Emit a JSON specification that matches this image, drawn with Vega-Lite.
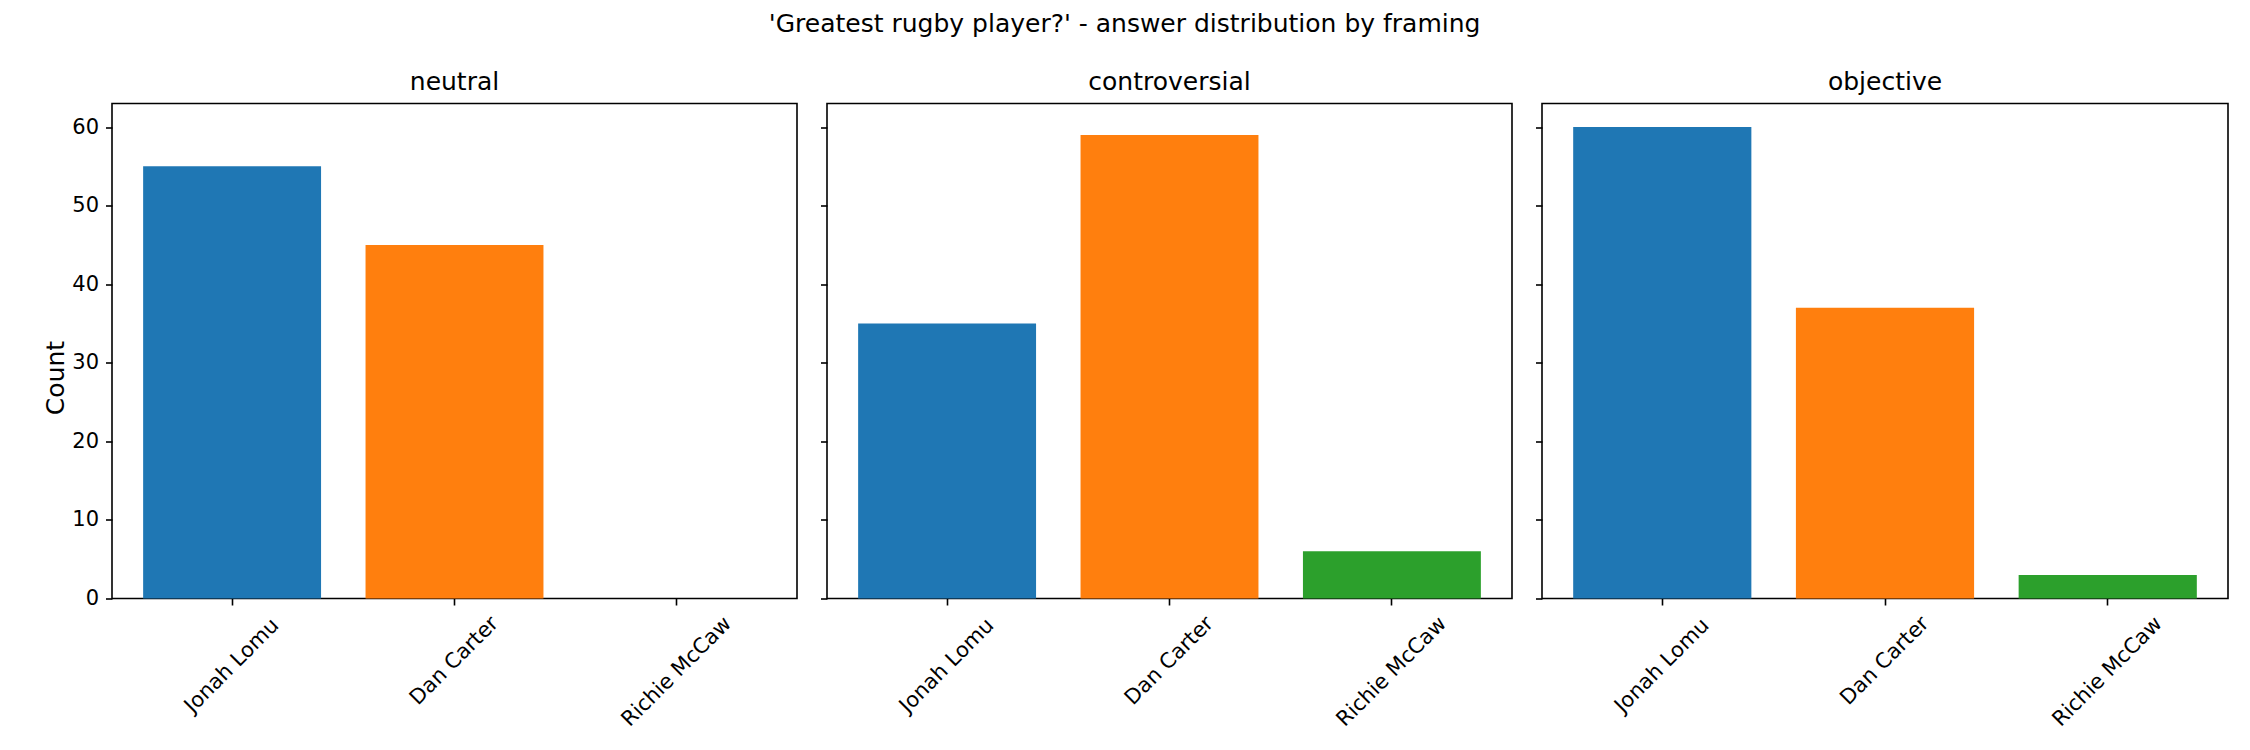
{
  "$schema": "https://vega.github.io/schema/vega-lite/v6.json",
  "background": "white",
  "padding": {"left": 42, "top": 11.5, "right": 22, "bottom": 0},
  "bounds": "flush",
  "title": {
    "text": "'Greatest rugby player?' - answer distribution by framing",
    "fontSize": 25,
    "font": "DejaVu Sans",
    "fontWeight": "normal",
    "color": "black",
    "anchor": "middle",
    "baseline": "alphabetic",
    "offset": 12,
    "dx": -11
  },
  "data": {
    "values": [
      {"framing": "neutral", "player": "Jonah Lomu", "count": 55},
      {"framing": "neutral", "player": "Dan Carter", "count": 45},
      {"framing": "neutral", "player": "Richie McCaw", "count": 0},
      {"framing": "controversial", "player": "Jonah Lomu", "count": 35},
      {"framing": "controversial", "player": "Dan Carter", "count": 59},
      {"framing": "controversial", "player": "Richie McCaw", "count": 6},
      {"framing": "objective", "player": "Jonah Lomu", "count": 60},
      {"framing": "objective", "player": "Dan Carter", "count": 37},
      {"framing": "objective", "player": "Richie McCaw", "count": 3}
    ]
  },
  "spacing": 30,
  "hconcat": [
    {
      "title": {"text": "neutral"},
      "width": 685,
      "height": 495,
      "transform": [{"filter": "datum.framing == 'neutral'"}],
      "mark": {"type": "bar"},
      "encoding": {
        "x": {
          "field": "player", "type": "nominal",
          "sort": ["Jonah Lomu", "Dan Carter", "Richie McCaw"],
          "scale": {"paddingInner": 0.2, "paddingOuter": 0.14},
          "axis": {
            "title": null, "labelAngle": -45, "labelAlign": "center", "labelBaseline": "middle",
            "labelPadding": {"condition": [{"test": "datum.label == 'Richie McCaw'", "value": 66.5}, {"test": "datum.label == 'Dan Carter'", "value": 55.5}], "value": 60.5}
          }
        },
        "y": {
          "field": "count", "type": "quantitative",
          "scale": {"domain": [0, 63], "nice": false, "zero": true},
          "axis": {"title": "Count", "values": [0, 10, 20, 30, 40, 50, 60], "titlePadding": 3.5, "titleY": 274}
        },
        "color": {
          "field": "player", "type": "nominal",
          "scale": {"domain": ["Jonah Lomu", "Dan Carter", "Richie McCaw"], "range": ["#1f77b4", "#ff7f0e", "#2ca02c"]},
          "legend": null
        }
      }
    },
    {
      "title": {"text": "controversial"},
      "width": 685,
      "height": 495,
      "transform": [{"filter": "datum.framing == 'controversial'"}],
      "mark": {"type": "bar"},
      "encoding": {
        "x": {
          "field": "player", "type": "nominal",
          "sort": ["Jonah Lomu", "Dan Carter", "Richie McCaw"],
          "scale": {"paddingInner": 0.2, "paddingOuter": 0.14},
          "axis": {
            "title": null, "labelAngle": -45, "labelAlign": "center", "labelBaseline": "middle",
            "labelPadding": {"condition": [{"test": "datum.label == 'Richie McCaw'", "value": 66.5}, {"test": "datum.label == 'Dan Carter'", "value": 55.5}], "value": 60.5}
          }
        },
        "y": {
          "field": "count", "type": "quantitative",
          "scale": {"domain": [0, 63], "nice": false, "zero": true},
          "axis": {"title": null, "labels": false, "values": [0, 10, 20, 30, 40, 50, 60]}
        },
        "color": {
          "field": "player", "type": "nominal",
          "scale": {"domain": ["Jonah Lomu", "Dan Carter", "Richie McCaw"], "range": ["#1f77b4", "#ff7f0e", "#2ca02c"]},
          "legend": null
        }
      }
    },
    {
      "title": {"text": "objective"},
      "width": 686,
      "height": 495,
      "transform": [{"filter": "datum.framing == 'objective'"}],
      "mark": {"type": "bar"},
      "encoding": {
        "x": {
          "field": "player", "type": "nominal",
          "sort": ["Jonah Lomu", "Dan Carter", "Richie McCaw"],
          "scale": {"paddingInner": 0.2, "paddingOuter": 0.14},
          "axis": {
            "title": null, "labelAngle": -45, "labelAlign": "center", "labelBaseline": "middle",
            "labelPadding": {"condition": [{"test": "datum.label == 'Richie McCaw'", "value": 66.5}, {"test": "datum.label == 'Dan Carter'", "value": 55.5}], "value": 60.5}
          }
        },
        "y": {
          "field": "count", "type": "quantitative",
          "scale": {"domain": [0, 63], "nice": false, "zero": true},
          "axis": {"title": null, "labels": false, "values": [0, 10, 20, 30, 40, 50, 60]}
        },
        "color": {
          "field": "player", "type": "nominal",
          "scale": {"domain": ["Jonah Lomu", "Dan Carter", "Richie McCaw"], "range": ["#1f77b4", "#ff7f0e", "#2ca02c"]},
          "legend": null
        }
      }
    }
  ],
  "resolve": {"scale": {"color": "shared"}},
  "config": {
    "font": "DejaVu Sans",
    "view": {"stroke": "black", "strokeWidth": 1.6},
    "axis": {
      "domain": false,
      "grid": false,
      "ticks": true,
      "tickColor": "black",
      "tickSize": 6.5,
      "tickWidth": 1.6,
      "labelFont": "DejaVu Sans",
      "labelFontSize": 21,
      "labelColor": "black",
      "labelPadding": 7,
      "labelOverlap": false,
      "labelFlush": false,
      "titleFont": "DejaVu Sans",
      "titleFontSize": 25,
      "titleFontWeight": "normal",
      "titleColor": "black"
    },
    "title": {
      "font": "DejaVu Sans",
      "fontSize": 25,
      "fontWeight": "normal",
      "color": "black",
      "anchor": "middle",
      "baseline": "alphabetic",
      "offset": 8.5
    }
  }
}
